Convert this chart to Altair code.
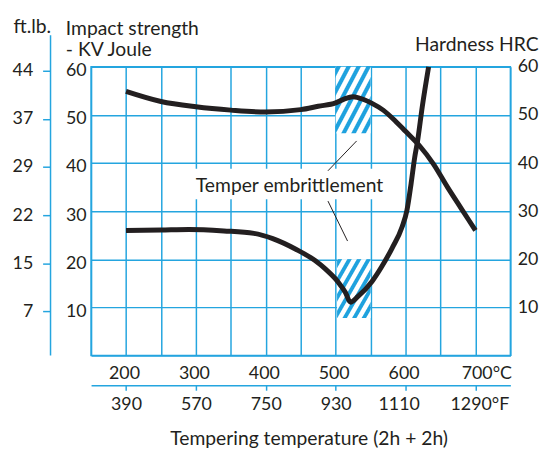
import altair as alt
import pandas as pd

# ---- data ----
impact_temp_c = [200, 250, 290, 340, 383, 410, 443, 470, 486, 504, 514, 521, 532, 552, 566, 581, 595, 602, 608, 613, 617, 624, 633]
impact_joule = [26.0, 26.1, 26.2, 25.9, 25.4, 24.3, 22.1, 19.8, 17.9, 15.2, 13.1, 11.1, 12.3, 15.4, 18.5, 22.4, 26.7, 30.2, 35.8, 41.1, 44.4, 51.8, 60.0]

hardness_temp_c = [200, 250, 300, 350, 400, 450, 475, 500, 512, 525, 540, 552, 568, 585, 600, 620, 640, 660, 680, 700]
hardness_hrc = [54.9, 52.8, 51.7, 51.0, 50.6, 51.1, 51.8, 52.5, 53.3, 53.8, 53.2, 52.4, 51.0, 48.8, 46.6, 43.6, 39.8, 35.0, 30.5, 26.0]

grid_temps = [150, 200, 250, 300, 350, 400, 450, 500, 550, 600, 650, 700, 750]
celsius_ticks = [200, 300, 400, 500, 600, 700]
celsius_labels = ["200", "300", "400", "500", "600", "700°C"]
fahrenheit_labels = ["390", "570", "750", "930", "1110", "1290°F"]
value_grid = [0, 10, 20, 30, 40, 50, 60]
joule_ticks = [10, 20, 30, 40, 50, 60]
joule_labels = ["10", "20", "30", "40", "50", "60"]
ftlb_labels = ["7", "15", "22", "29", "37", "44"]
hrc_ticks = [10, 20, 30, 40, 50, 60]

zone_start = [500, 502]
zone_end = [550, 550]
zone_low = [46.2, 7.8]
zone_high = [60, 20]

note_text = ["Temper embrittlement"]
note_temp = [434]
note_value = [35.3]
note_box_start = [295]
note_box_end = [578]
note_box_low = [32.5]
note_box_high = [38.8]

leader_t0 = [489, 489]
leader_v0 = [38.4, 32.1]
leader_t1 = [530, 517]
leader_v1 = [44.6, 23.8]

# ---- styling ----
BLUE = "#24a5df"
STRIPE = "#1fa2de"
DARK = "#231f20"
FONT = "Lato"
TITLE_SIZE = 19.5


def label_expr(values, labels):
    expr = "''"
    for v, lab in zip(reversed(values), reversed(labels)):
        expr = f"datum.value == {v} ? '{lab}' : {expr}"
    return expr


xs = alt.Scale(domain=[150, 750], nice=False, zero=False)
ys = alt.Scale(domain=[0, 60], nice=False, zero=False)

N = 7
stops = []
for k in range(N):
    b = k / N
    stops += [
        alt.GradientStop(offset=b, color="white"),
        alt.GradientStop(offset=b + 0.12 / N, color=STRIPE),
        alt.GradientStop(offset=b + 0.46 / N, color=STRIPE),
        alt.GradientStop(offset=b + 0.58 / N, color="white"),
    ]
stops.append(alt.GradientStop(offset=1, color="white"))
stripes = alt.LinearGradient(gradient="linear", stops=stops, x1=0, y1=0, x2=1, y2=1)

zones_df = pd.DataFrame({"t0": zone_start, "t1": zone_end, "lo": zone_low, "hi": zone_high})
zones = alt.Chart(zones_df).mark_rect(fill=stripes).encode(
    x=alt.X("t0:Q", scale=xs, axis=None),
    x2="t1:Q",
    y=alt.Y("lo:Q", scale=ys, axis=alt.Axis(
        orient="left", offset=41, values=joule_ticks,
        labelExpr=label_expr(joule_ticks, ftlb_labels),
        domain=False, ticks=True, tickSize=8, tickColor=BLUE, tickWidth=1.5, tickOffset=4,
        labelPadding=10, grid=False, labelFlush=False, labelOverlap=False,
        title="ft.lb.", titleAngle=0, titleAlign="left", titleBaseline="alphabetic",
        titleX=-38, titleY=-35)),
    y2="hi:Q",
)

note_bg = alt.Chart(pd.DataFrame({"t0": note_box_start, "t1": note_box_end, "lo": note_box_low, "hi": note_box_high})).mark_rect(fill="white").encode(
    x=alt.X("t0:Q", scale=xs, axis=None), x2="t1:Q",
    y=alt.Y("lo:Q", scale=ys, axis=None), y2="hi:Q",
)

note = alt.Chart(pd.DataFrame({"t": note_temp, "v": note_value, "label": note_text})).mark_text(
    font=FONT, fontSize=TITLE_SIZE, color=DARK, align="center", baseline="middle"
).encode(
    x=alt.X("t:Q", scale=xs, axis=None),
    y=alt.Y("v:Q", scale=ys, axis=None),
    text="label:N",
)

leaders = alt.Chart(pd.DataFrame({"t0": leader_t0, "v0": leader_v0, "t1": leader_t1, "v1": leader_v1})).mark_rule(
    color=DARK, strokeWidth=1
).encode(
    x=alt.X("t0:Q", scale=xs, axis=None), x2="t1:Q",
    y=alt.Y("v0:Q", scale=ys, axis=None), y2="v1:Q",
)

impact = alt.Chart(pd.DataFrame({"t": impact_temp_c, "v": impact_joule})).mark_line(
    color=DARK, strokeWidth=5, interpolate="monotone"
).encode(
    x=alt.X("t:Q", scale=xs, axis=alt.Axis(
        orient="bottom", values=grid_temps, grid=True, gridColor=BLUE, gridWidth=1.5, gridOpacity=1,
        domain=False, ticks=False, tickSize=0, labelPadding=9,
        labelExpr=label_expr(celsius_ticks, celsius_labels),
        labelOffset={"condition": {"test": "datum.value == 700", "value": 11}, "value": -2},
        labelOverlap=False, labelFlush=False, title=None)),
    y=alt.Y("v:Q", scale=ys, axis=alt.Axis(
        orient="left", values=value_grid, grid=True, gridColor=BLUE, gridWidth=1.5, gridOpacity=1,
        domain=False, ticks=False, tickSize=0, labelPadding=5, labelOffset=4,
        labelExpr=label_expr(joule_ticks, joule_labels),
        labelOverlap=False, labelFlush=False,
        title=["Impact strength", "- KV Joule"], titleAngle=0, titleAlign="left",
        titleBaseline="alphabetic", titleX=-26, titleY=-33, titleLineHeight=22)),
)

hardness = alt.Chart(pd.DataFrame({"t": hardness_temp_c, "v": hardness_hrc})).mark_line(
    color=DARK, strokeWidth=5, interpolate="monotone"
).encode(
    x=alt.X("t:Q", scale=xs, axis=alt.Axis(
        orient="bottom", offset=30, values=celsius_ticks, grid=False,
        domain=True, domainColor=BLUE, domainWidth=1.5,
        ticks=True, tickColor=BLUE, tickWidth=1.5, tickSize=5, labelPadding=6,
        labelExpr=label_expr(celsius_ticks, fahrenheit_labels),
        labelOffset={"condition": [{"test": "datum.value == 600", "value": -7},
                                   {"test": "datum.value == 700", "value": 4}], "value": 0},
        labelOverlap=False, labelFlush=False,
        title="Tempering temperature (2h + 2h)", titleX=220, titleY=60,
        titleAlign="center", titleBaseline="alphabetic")),
    y=alt.Y("v:Q", scale=ys, axis=alt.Axis(
        orient="right", values=hrc_ticks, grid=False, domain=False, ticks=False, tickSize=0,
        labelPadding=7, labelOverlap=False, labelFlush=False,
        title="Hardness HRC", titleAngle=0, titleAlign="right", titleBaseline="alphabetic",
        titleX=28, titleY=-17)),
)

ftlb_line = alt.Chart(pd.DataFrame({"a": [0]})).mark_rule(color=BLUE, strokeWidth=1.5).encode(
    x=alt.value(-41), y=alt.value(-32), y2=alt.value(292)
)

chart = alt.layer(
    zones, note_bg, note, leaders, impact, hardness, ftlb_line
).resolve_scale(
    x="independent", y="independent"
).properties(
    width=424, height=292,
    autosize=alt.AutoSizeParams(type="none"),
    padding={"left": 84, "top": 57, "right": 34, "bottom": 94},
).configure_view(
    stroke=BLUE, strokeWidth=1.5
).configure_axis(
    labelFont=FONT, labelFontSize=18, labelColor=DARK,
    titleFont=FONT, titleFontSize=TITLE_SIZE, titleColor=DARK, titleFontWeight="normal",
)

chart.save("out.html", embed_options={"renderer": "svg", "actions": False})
